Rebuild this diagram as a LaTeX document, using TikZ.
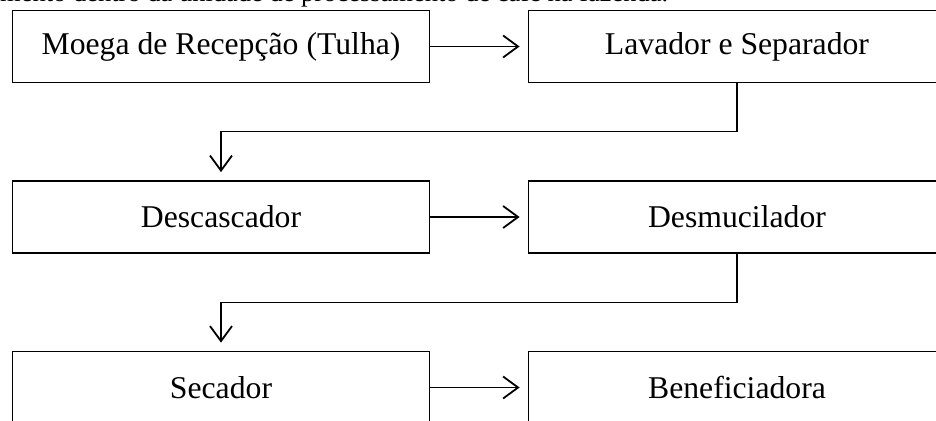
\documentclass[tikz,border=0pt]{standalone}
\usepackage{fontspec}
\setmainfont{Liberation Serif}
\usetikzlibrary{arrows.meta}
\begin{document}
\begin{tikzpicture}[x=1pt,y=-1pt,
  stepbox/.style={draw,line width=1.8pt,minimum width=417pt,minimum height=72pt,inner sep=0pt,
    font=\fontsize{31.7}{38}\selectfont},
  flow/.style={line width=1.8pt,-{Straight Barb[length=15pt,width=22pt,line width=1.8pt]},shorten >=8pt},
  captxt/.style={anchor=base west,inner sep=0pt,font=\fontsize{26.5}{32}\selectfont}]
\useasboundingbox (0,0) rectangle (936,420);
\clip (0,0) rectangle (936,420);
\node[captxt] (cap) at (0,1.5) {mento dentro da unidade de processamento de café na fazenda.};
\node[stepbox] (moega) at (221,46.5) {Moega de Recepção (Tulha)};
\node[stepbox] (lav) at (737,46.5) {Lavador e Separador};
\node[stepbox] (desc) at (221,217) {Descascador};
\node[stepbox] (desm) at (737,217) {Desmucilador};
\node[stepbox] (sec) at (221,387.5) {Secador};
\node[stepbox] (ben) at (737,387.5) {Beneficiadora};
\coordinate (m1) at (221,131.5);
\coordinate (m2) at (221,302.5);
\draw[flow] (moega) -- (lav);
\draw[flow] (desc) -- (desm);
\draw[flow] (sec) -- (ben);
\draw[flow] (lav.south) |- (m1) -- (desc.north);
\draw[flow] (desm.south) |- (m2) -- (sec.north);
\end{tikzpicture}
\end{document}
